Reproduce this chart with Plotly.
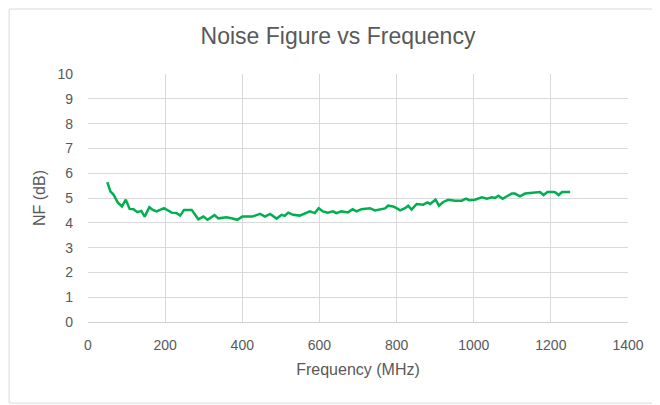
import plotly.graph_objects as go

# Frequency (MHz) and noise figure (dB)
freq_mhz = [50, 58, 66, 77, 88, 98, 108, 118, 128, 138, 147, 159, 168, 178, 197,
            217, 230, 239, 249, 269, 286, 299, 310, 328, 338, 359, 372, 387, 400,
            426, 446, 459, 472, 489, 502, 510, 519, 532, 549, 575, 588, 598, 609,
            622, 635, 644, 657, 674, 686, 696, 709, 731, 744, 761, 770, 778, 791,
            800, 809, 822, 830, 839, 852, 869, 880, 887, 894, 901, 910, 921, 934,
            952, 969, 980, 989, 1003, 1021, 1034, 1047, 1055, 1064, 1075, 1086,
            1099, 1107, 1120, 1133, 1146, 1164, 1172, 1181, 1191, 1207, 1211,
            1220, 1229, 1250]
nf_db = [5.64, 5.27, 5.14, 4.82, 4.66, 4.93, 4.56, 4.55, 4.43, 4.48, 4.25, 4.63,
         4.52, 4.46, 4.59, 4.41, 4.39, 4.29, 4.52, 4.52, 4.14, 4.25, 4.12, 4.31,
         4.18, 4.22, 4.18, 4.12, 4.25, 4.25, 4.36, 4.25, 4.36, 4.17, 4.32, 4.28,
         4.41, 4.32, 4.29, 4.46, 4.39, 4.59, 4.46, 4.41, 4.46, 4.39, 4.46, 4.42,
         4.55, 4.46, 4.55, 4.59, 4.50, 4.57, 4.58, 4.69, 4.66, 4.59, 4.50, 4.59,
         4.69, 4.53, 4.76, 4.73, 4.82, 4.76, 4.86, 4.93, 4.69, 4.84, 4.93, 4.89,
         4.89, 4.97, 4.91, 4.93, 5.03, 4.97, 5.03, 5.00, 5.09, 4.97, 5.07, 5.18,
         5.18, 5.07, 5.18, 5.20, 5.24, 5.24, 5.12, 5.24, 5.24, 5.23, 5.12, 5.24,
         5.24]

x_ticks = [0, 200, 400, 600, 800, 1000, 1200, 1400]
y_ticks = list(range(0, 11))

FONT = "Liberation Sans"
GREY = "#595959"

fig = go.Figure()
fig.add_trace(
    go.Scatter(
        x=freq_mhz,
        y=nf_db,
        mode="lines",
        line=dict(color="#00b050", width=2.5),
        showlegend=False,
    )
)

fig.update_layout(
    width=660,
    height=405,
    margin=dict(l=80, r=40, t=66, b=91),
    paper_bgcolor="white",
    plot_bgcolor="white",
    font=dict(family=FONT, color=GREY, size=14),
    title=dict(
        text="Noise Figure vs Frequency",
        x=0.5,
        xanchor="center",
        y=0.93,
        yanchor="middle",
        font=dict(family=FONT, size=23, color=GREY),
    ),
)

fig.update_xaxes(
    range=[0, 1400],
    tickvals=x_ticks,
    showgrid=True,
    gridcolor="#d9d9d9",
    zeroline=False,
    showline=True,
    linecolor="#d0d0d0",
    ticks="",
    ticklabelstandoff=10,
    title=dict(text="Frequency (MHz)", font=dict(size=16, color=GREY), standoff=12),
)
fig.update_yaxes(
    range=[0, 10],
    tickvals=y_ticks,
    showgrid=True,
    gridcolor="#d9d9d9",
    zeroline=False,
    showline=False,
    ticks="",
    ticklabelstandoff=14,
    title=dict(text="NF (dB)", font=dict(size=16, color=GREY), standoff=7),
)

# Outer chart border as in the spreadsheet chart
fig.add_shape(
    type="rect",
    xref="paper",
    yref="paper",
    x0=-0.146,
    x1=1.052,
    y0=-0.327,
    y1=1.262,
    line=dict(color="#d9d9d9", width=1),
    layer="below",
)

fig.write_html("out.html")
